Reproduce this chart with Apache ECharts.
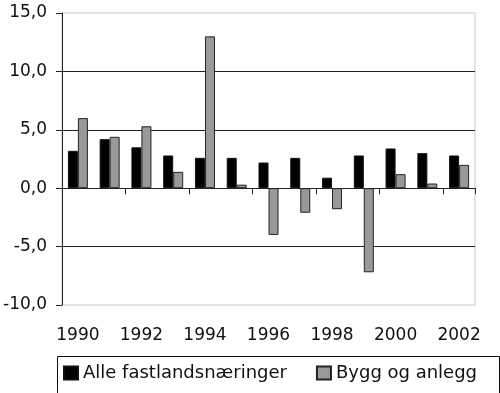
<!DOCTYPE html>
<html><head><meta charset="utf-8">
<script src="https://cdn.jsdelivr.net/npm/echarts@6/dist/echarts.min.js"></script>
<style>html,body{margin:0;padding:0;background:#fff}#c{width:500px;height:393px}</style>
</head><body><div id="c"></div>
<script>
var years = ['1990','1991','1992','1993','1994','1995','1996','1997','1998','1999','2000','2001','2002'];
var seriesNames = ['Alle fastlandsnæringer', 'Bygg og anlegg'];
var alleValues = [3.2, 4.2, 3.5, 2.8, 2.6, 2.6, 2.2, 2.6, 0.9, 2.8, 3.4, 3.0, 2.8];
var byggValues = [6.0, 4.4, 5.3, 1.4, 13.0, 0.3, -4.0, -2.1, -1.8, -7.2, 1.2, 0.4, 2.0];

var FONT = 'DejaVu Sans';
var chart = echarts.init(document.getElementById('c'), null, {renderer: 'canvas'});
chart.setOption({
  animation: false,
  backgroundColor: '#fff',
  textStyle: {fontFamily: FONT},
  grid: {left: 62, right: 25, top: 13, bottom: 88, show: true, borderColor: '#c8c8c8', borderWidth: 1, backgroundColor: 'transparent'},
  xAxis: [{
    type: 'category', data: years, position: 'bottom',
    axisLine: {onZero: true, lineStyle: {color: '#222', width: 1}},
    axisTick: {show: true, length: 6, lineStyle: {color: '#222'}},
    axisLabel: {show: false},
    splitLine: {show: false}
  }, {
    type: 'category', data: years, position: 'bottom',
    axisLine: {show: false, onZero: false},
    axisTick: {show: false},
    axisLabel: {show: true, interval: 1, margin: 22, fontSize: 17, color: '#111', fontFamily: FONT},
    splitLine: {show: false}
  }],
  yAxis: {
    type: 'value', min: -10, max: 15, interval: 5,
    axisLine: {show: true, lineStyle: {color: '#222'}},
    axisTick: {show: true, length: 6, lineStyle: {color: '#222'}},
    axisLabel: {margin: 15, fontSize: 17, color: '#111', fontFamily: FONT,
      formatter: function (v) { return v.toFixed(1).replace('.', ','); }},
    splitLine: {show: true, showMinLine: false, showMaxLine: false, lineStyle: {color: '#222', width: 1}}
  },
  legend: {
    left: 63, top: 364, padding: 0, itemGap: 29, itemWidth: 14, itemHeight: 13, icon: 'rect',
    textStyle: {fontSize: 18, color: '#111', fontFamily: FONT},
    data: seriesNames
  },
  graphic: [{
    type: 'rect', left: 55, top: 354, shape: {width: 442, height: 50},
    style: {fill: 'none', stroke: '#111', lineWidth: 1}, silent: true
  }],
  series: [{
    name: seriesNames[0], type: 'bar', data: alleValues, barWidth: 10, barGap: '0%',
    itemStyle: {color: '#000', borderColor: '#111', borderWidth: 1}
  }, {
    name: seriesNames[1], type: 'bar', data: byggValues, barWidth: 10, barGap: '0%',
    itemStyle: {color: '#999', borderColor: '#222', borderWidth: 1}
  }]
});
</script></body></html>
